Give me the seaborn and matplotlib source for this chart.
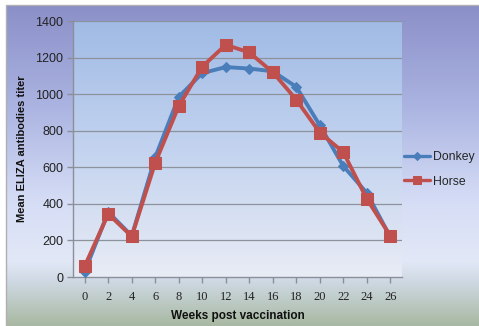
import numpy as np
import pandas as pd
import matplotlib
matplotlib.use("Agg")
import matplotlib.pyplot as plt
from matplotlib.colors import LinearSegmentedColormap
import seaborn as sns

weeks = [0, 2, 4, 6, 8, 10, 12, 14, 16, 18, 20, 22, 24, 26]
donkey = [30, 355, 225, 655, 985, 1115, 1148, 1140, 1125, 1040, 830, 607, 460, 220]
horse = [60, 345, 222, 625, 935, 1150, 1270, 1228, 1120, 970, 790, 683, 428, 225]
y_ticks = [0, 200, 400, 600, 800, 1000, 1200, 1400]

df = pd.DataFrame({
    "week": weeks * 2,
    "titer": donkey + horse,
    "animal": ["Donkey"] * len(weeks) + ["Horse"] * len(weeks),
})

sns.set_theme(style="white")
plt.rcParams["font.family"] = ["Liberation Sans", "DejaVu Sans"]

W, H = 479, 326
fig = plt.figure(figsize=(W / 100, H / 100), dpi=100)
fig.patch.set_facecolor("white")

# outer chart-area gradient (lavender top -> pale middle -> sage bottom)
bg = fig.add_axes([6 / W, 0, 1 - 6 / W, (H - 5) / H], zorder=-2)
outer_cmap = LinearSegmentedColormap.from_list(
    "outer",
    [(0.0, "#8b8fc8"), (0.30, "#a9b2e0"), (0.62, "#d6def6"),
     (0.80, "#e2e8f6"), (0.86, "#cfd9e4"), (1.0, "#a8b9a2")],
)
bg.imshow(np.linspace(0, 1, 256).reshape(-1, 1), cmap=outer_cmap,
          aspect="auto", extent=[0, 1, 0, 1], origin="upper")
bg.set_axis_off()
fig.patches.append(plt.Rectangle((5.5 / W, 0), 1, (H - 4.5) / H,
                                 transform=fig.transFigure, fill=False,
                                 edgecolor="#b0b0b0", lw=1, zorder=-1))

ax = fig.add_axes([73 / W, (H - 277) / H, (402 - 73) / W, (277 - 21) / H])
ax.set_xlim(-1, 27)
ax.set_ylim(0, 1400)

# plot-area gradient
plot_cmap = LinearSegmentedColormap.from_list(
    "plotarea", [(0.0, "#a0bbe5"), (0.5, "#c3d3ef"), (1.0, "#e8ecf5")])
ax.imshow(np.linspace(0, 1, 256).reshape(-1, 1), cmap=plot_cmap,
          aspect="auto", extent=[-1, 27, 0, 1400], origin="upper", zorder=0)

for yv in y_ticks[1:]:
    ax.axhline(yv, color="#8d929c", lw=0.9, zorder=1)

sns.lineplot(data=df[df.animal == "Donkey"], x="week", y="titer", ax=ax,
             color="#4a7ebb", lw=2.8, marker="D", markersize=5,
             markeredgecolor="#4a7ebb", label="Donkey", zorder=3)
sns.lineplot(data=df[df.animal == "Horse"], x="week", y="titer", ax=ax,
             color="#c0504d", lw=2.8, marker="s", markersize=8,
             markeredgecolor="#c0504d", label="Horse", zorder=4)

ax.set_xticks(weeks)
ax.set_xticklabels([str(w) for w in weeks], family="Liberation Serif",
                   fontsize=9, color="#222222")
ax.set_yticks(y_ticks)
ax.set_yticklabels([str(v) for v in y_ticks], fontsize=9, color="#222222")
ax.tick_params(axis="both", which="both", length=4, width=1,
               color="#8a8f9a", direction="out", bottom=True, left=True, pad=3)
ax.tick_params(axis="x", pad=6)

for side in ("top", "right"):
    ax.spines[side].set_visible(False)
for side in ("left", "bottom"):
    ax.spines[side].set_color("#8a8f9a")
    ax.spines[side].set_linewidth(1)

ax.set_xlabel("Weeks post vaccination", fontsize=8.5, fontweight="bold",
              color="#111111", labelpad=5)
ax.set_ylabel("Mean ELIZA antibodies titer", fontsize=8, fontweight="bold",
              color="#111111", labelpad=6)

leg = ax.legend(loc="center left", bbox_to_anchor=(1.0, 0.42), frameon=False,
                fontsize=8.8, handlelength=2.1, handletextpad=0.25,
                labelspacing=1.0, borderaxespad=0.0, borderpad=0.2)
for h in leg.legend_handles:
    h.set_linewidth(2.4)
leg.legend_handles[0].set_markersize(4)
leg.legend_handles[1].set_markersize(6)

fig.savefig("out.png", dpi=100)
